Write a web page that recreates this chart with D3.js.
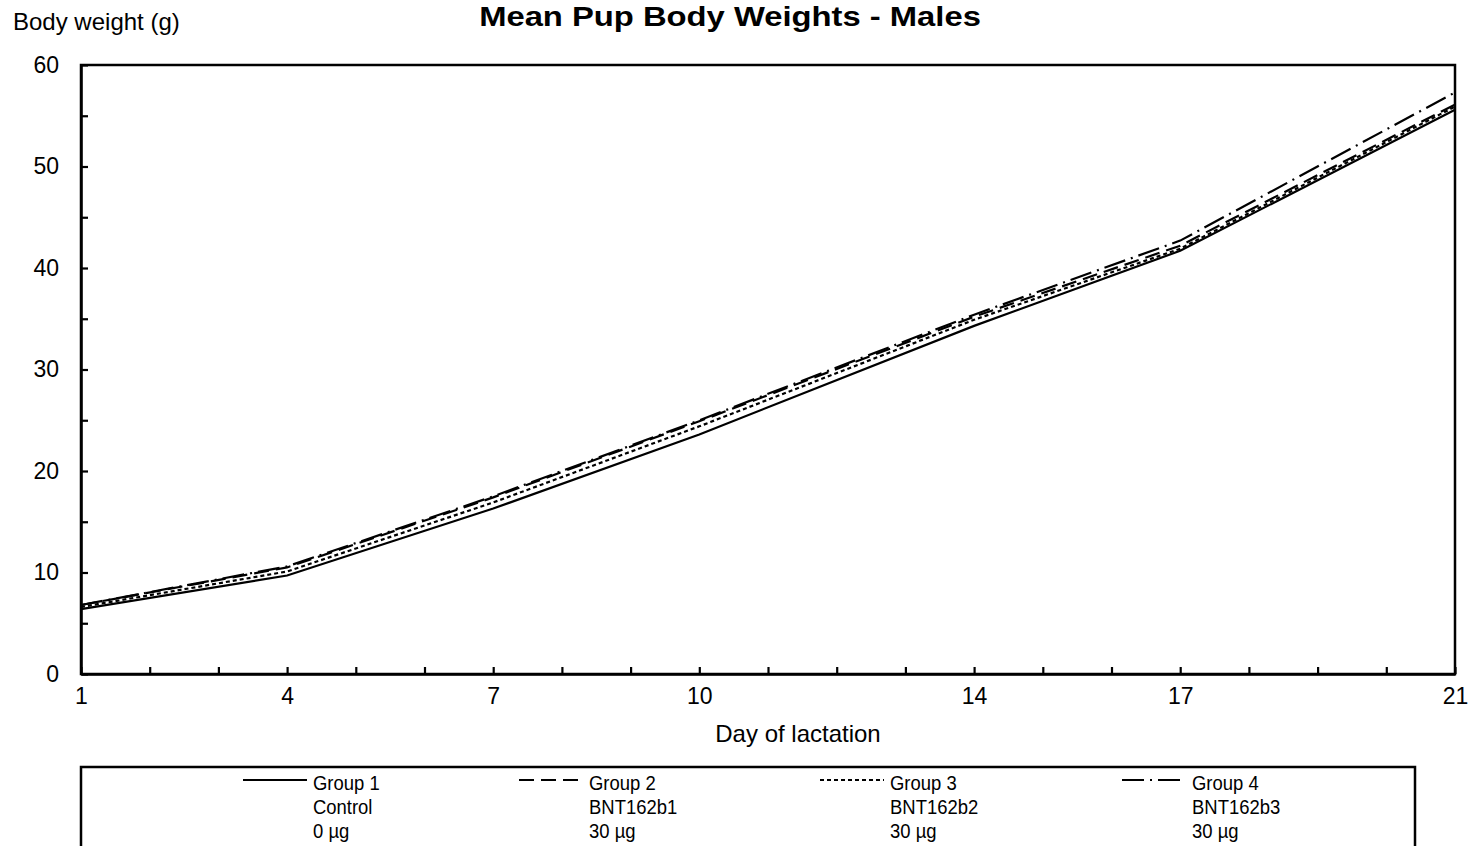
<!DOCTYPE html>
<html>
<head>
<meta charset="utf-8">
<script src="https://cdn.jsdelivr.net/npm/d3@7"></script>
<style>
  html, body { margin: 0; padding: 0; background: #fff; }
  svg { display: block; font-family: Arial, "Liberation Sans", sans-serif; }
</style>
</head>
<body>
<svg id="chart" width="1470" height="846"></svg>
<script>
// ---- data ----
const days = [1, 4, 7, 10, 14, 17, 21];
const xTickLabels = [1, 4, 7, 10, 14, 17, 21];
const yTickLabels = [0, 10, 20, 30, 40, 50, 60];
const group1 = [6.4, 9.7, 16.3, 23.6, 34.3, 41.7, 55.6];
const group2 = [6.8, 10.5, 17.4, 24.9, 35.2, 42.2, 56.1];
const group3 = [6.6, 10.1, 16.9, 24.4, 34.9, 41.9, 55.9];
const group4 = [6.8, 10.6, 17.5, 25.0, 35.4, 42.7, 57.3];
const groupNames = ["Group 1", "Group 2", "Group 3", "Group 4"];
const groupSubs = ["Control", "BNT162b1", "BNT162b2", "BNT162b3"];
const groupDoses = ["0 µg", "30 µg", "30 µg", "30 µg"];

// ---- layout ----
const svg = d3.select("#chart");
const pL = 81, pR = 1455, pT = 65, pB = 674;
const x = d3.scaleLinear().domain([1, 21]).range([pL, pR]);
const y = d3.scaleLinear().domain([0, 60]).range([pB, pT]);

const dashes = [null, "15,7", "4,3", "22,6,2,6"];
const series = [group1, group2, group3, group4];
const FONT = "Arial, 'Liberation Sans', sans-serif";

// plot frame
svg.append("rect").attr("x", pL).attr("y", pT)
  .attr("width", pR - pL).attr("height", pB - pT)
  .attr("fill", "none").attr("stroke", "#000").attr("stroke-width", 2.5);

// x axis (inner ticks every day)
const xAxis = d3.axisBottom(x).tickValues(d3.range(1, 22)).tickSizeInner(-7).tickSizeOuter(0)
  .tickFormat(d => xTickLabels.includes(d) ? d : "");
const gx = svg.append("g").attr("transform", `translate(0,${pB})`).call(xAxis);
gx.select(".domain").attr("stroke-width", 2.5);
gx.selectAll(".tick line").attr("stroke-width", 2.2);
gx.selectAll(".tick text").attr("font-size", 23).attr("font-family", FONT)
  .attr("fill", "#000").attr("y", 14).attr("dy", "0.71em");

// y axis (inner ticks every 5)
const yAxis = d3.axisLeft(y).tickValues(d3.range(0, 61, 5)).tickSizeInner(-7).tickSizeOuter(0)
  .tickFormat(d => yTickLabels.includes(d) ? d : "");
const gy = svg.append("g").attr("transform", `translate(${pL},0)`).call(yAxis);
gy.select(".domain").attr("stroke-width", 2.5);
gy.selectAll(".tick line").attr("stroke-width", 2.2);
gy.selectAll(".tick text").attr("font-size", 23).attr("font-family", FONT)
  .attr("fill", "#000").attr("x", -22);

// lines
const line = d3.line().x((d, i) => x(days[i])).y(d => y(d));
series.forEach((s, i) => {
  svg.append("path").datum(s).attr("d", line)
    .attr("fill", "none").attr("stroke", "#000").attr("stroke-width", 2.2)
    .attr("stroke-dasharray", dashes[i]);
});

// titles
svg.append("text").attr("transform", "translate(730,26) scale(1.17,1)").attr("text-anchor", "middle")
  .attr("font-size", 28).attr("font-weight", "bold").text("Mean Pup Body Weights - Males");
svg.append("text").attr("x", 13).attr("y", 30).attr("font-size", 24).text("Body weight (g)");
svg.append("text").attr("x", 798).attr("y", 742).attr("text-anchor", "middle")
  .attr("font-size", 24).text("Day of lactation");

// legend
svg.append("rect").attr("x", 81).attr("y", 767).attr("width", 1334).attr("height", 100)
  .attr("fill", "none").attr("stroke", "#000").attr("stroke-width", 2.5);
const legX = [313, 589, 890, 1192];
groupNames.forEach((n, i) => {
  const tx = legX[i];
  svg.append("line").attr("x1", tx - 70).attr("x2", tx - 6).attr("y1", 780).attr("y2", 780)
    .attr("stroke", "#000").attr("stroke-width", 2).attr("stroke-dasharray", dashes[i]);
  [n, groupSubs[i], groupDoses[i]].forEach((t, j) => {
    svg.append("text").attr("transform", `translate(${tx},${790 + j * 24}) scale(0.9,1)`)
      .attr("font-size", 20.5).text(t);
  });
});
</script>
</body>
</html>
